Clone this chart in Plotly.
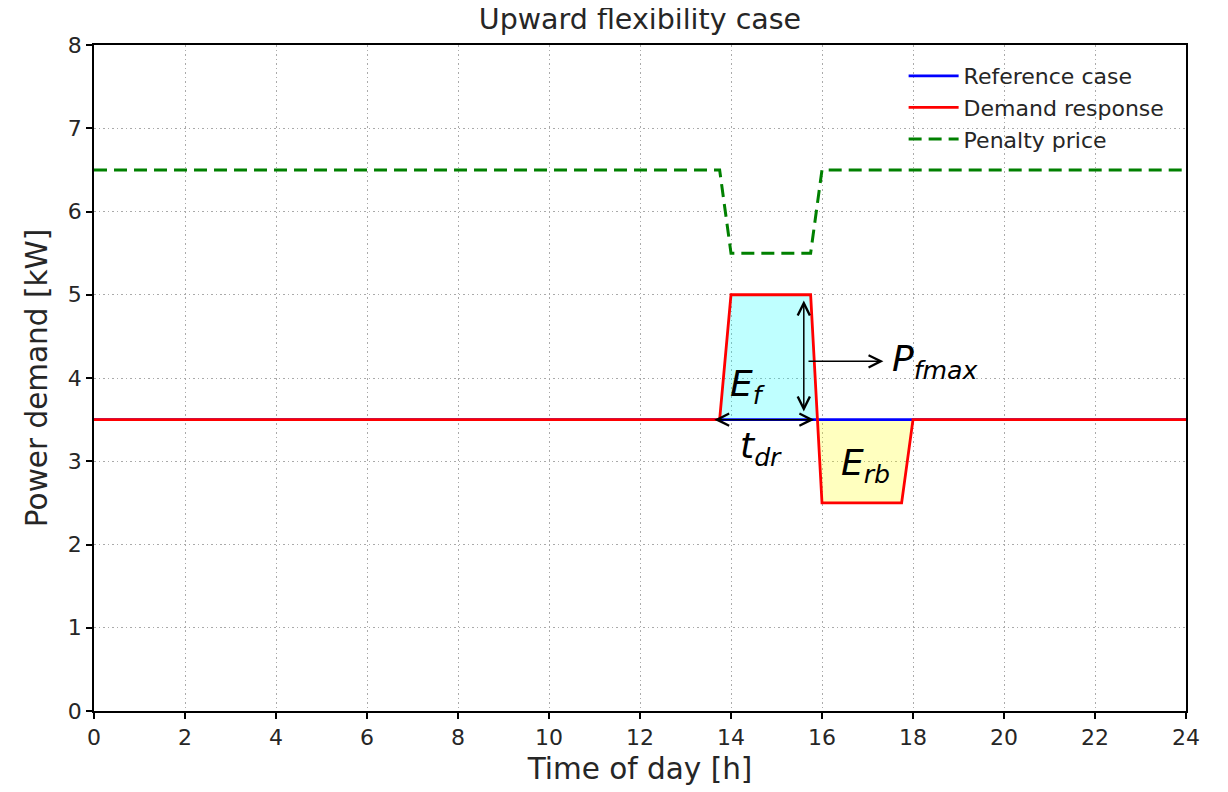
import numpy as np
import plotly.graph_objects as go

# ---------------- data ----------------
time_ref = [0, 24]
power_ref = [3.5, 3.5]

time_dr = [0, 13.75, 14.0, 15.75, 16.0, 17.75, 18.0, 24]
power_dr = [3.5, 3.5, 5.0, 5.0, 2.5, 2.5, 3.5, 3.5]

time_price = [0, 13.75, 14.0, 15.75, 16.0, 24]
price = [6.5, 6.5, 5.5, 5.5, 6.5, 6.5]

x_ticks = list(range(0, 25, 2))
y_ticks = list(range(0, 9))

# annotation anchors (data coordinates)
vert_arrow = dict(x=15.6, y0=3.58, y1=4.93)
tdr_arrow = dict(y=3.5, x0=13.6, x1=15.83)
pf_arrow = dict(y=4.2, x0=15.67, x1=17.35)
labels = [
    dict(text="<i>E</i><sub><i>f</i></sub>", x=14.38, y=3.9),
    dict(text="<i>t</i><sub><i>dr</i></sub>", x=14.65, y=3.15),
    dict(text="<i>E</i><sub><i>rb</i></sub>", x=16.95, y=2.95),
    dict(text="<i>P</i><sub><i>fmax</i></sub>", x=18.5, y=4.2),
]

FONT = "DejaVu Sans"
TXT = "#262626"


def split_fill(xs, ys, base, above=True):
    """Polygon vertices of the part of the line above/below a constant base."""
    px, py = [], []
    for i in range(len(xs) - 1):
        x0, x1, y0, y1 = xs[i], xs[i + 1], ys[i], ys[i + 1]
        d0, d1 = y0 - base, y1 - base
        if not above:
            d0, d1 = -d0, -d1
        if d0 >= 0:
            px.append(x0); py.append(y0 if d0 > 0 else base)
        if (d0 > 0 and d1 < 0) or (d0 < 0 and d1 > 0):
            xc = x0 + (x1 - x0) * d0 / (d0 - d1)
            px.append(xc); py.append(base)
    if (ys[-1] - base) * (1 if above else -1) >= 0:
        px.append(xs[-1]); py.append(ys[-1])
    py = [max(v, base) if above else min(v, base) for v in py]
    return px, py


fig = go.Figure()

cx, cy = split_fill(time_dr, power_dr, 3.5, above=True)
yx, yy = split_fill(time_dr, power_dr, 3.5, above=False)

fig.add_trace(go.Scatter(x=cx, y=[3.5] * len(cx), mode="lines", line=dict(width=0),
                         showlegend=False, hoverinfo="skip"))
fig.add_trace(go.Scatter(x=cx, y=cy, mode="lines", line=dict(width=0), fill="tonexty",
                         fillcolor="rgba(0,255,255,0.25)", showlegend=False, hoverinfo="skip"))
fig.add_trace(go.Scatter(x=yx, y=[3.5] * len(yx), mode="lines", line=dict(width=0),
                         showlegend=False, hoverinfo="skip"))
fig.add_trace(go.Scatter(x=yx, y=yy, mode="lines", line=dict(width=0), fill="tonexty",
                         fillcolor="rgba(255,255,0,0.25)", showlegend=False, hoverinfo="skip"))

fig.add_trace(go.Scatter(x=time_ref, y=power_ref, mode="lines", name="Reference case",
                         line=dict(color="#0000ff", width=2.8)))
fig.add_trace(go.Scatter(x=time_dr, y=power_dr, mode="lines", name="Demand response",
                         line=dict(color="#ff0000", width=2.8)))
fig.add_trace(go.Scatter(x=time_price, y=price, mode="lines", name="Penalty price",
                         line=dict(color="#008000", width=3, dash="13px,7px")))

arrow_common = dict(xref="x", yref="y", axref="x", ayref="y", showarrow=True,
                    arrowcolor="black", arrowwidth=1.5, arrowsize=1.6, text="")
# vertical double arrow
fig.add_annotation(x=vert_arrow["x"], y=vert_arrow["y1"], ax=vert_arrow["x"], ay=vert_arrow["y0"],
                   arrowhead=5, startarrowhead=5, startarrowsize=1.6, arrowside="end+start",
                   **arrow_common)
# horizontal double arrow (t_dr)
fig.add_annotation(x=tdr_arrow["x1"], y=tdr_arrow["y"], ax=tdr_arrow["x0"], ay=tdr_arrow["y"],
                   arrowhead=5, startarrowhead=5, startarrowsize=1.6, arrowside="end+start",
                   **arrow_common)
# arrow to P_fmax
fig.add_annotation(x=pf_arrow["x1"], y=pf_arrow["y"], ax=pf_arrow["x0"], ay=pf_arrow["y"],
                   arrowhead=5, arrowside="end", **arrow_common)

for lb in labels:
    fig.add_annotation(x=lb["x"], y=lb["y"], xref="x", yref="y", text=lb["text"], showarrow=False,
                       font=dict(family=FONT, size=36, color="black"))

axis_style = dict(showgrid=True, gridcolor="#aaaaaa", griddash="1.5px,3px", gridwidth=1,
                  showline=True, linecolor="black", linewidth=1.5, mirror=True,
                  ticks="outside", ticklen=6, tickwidth=1.5, tickcolor="black",
                  tickfont=dict(family=FONT, size=22, color=TXT), zeroline=False)

# the page body adds an 8px offset, margins compensate for it
fig.update_layout(
    width=1228, height=792,
    margin=dict(l=86, r=50, t=37, b=89),
    plot_bgcolor="white", paper_bgcolor="white",
    font=dict(family=FONT, color=TXT),
    title=dict(text="Upward flexibility case", x=0.5, xref="paper", xanchor="center",
               y=0.999, yref="container", yanchor="top",
               font=dict(family=FONT, size=28.5, color=TXT)),
    xaxis=dict(range=[0, 24], tickvals=x_ticks, ticktext=[str(v) for v in x_ticks],
               title=dict(text="Time of day [h]", font=dict(family=FONT, size=29.5, color=TXT),
                          standoff=9), **axis_style),
    yaxis=dict(range=[0, 8], tickvals=y_ticks, ticktext=[str(v) for v in y_ticks],
               title=dict(text="Power demand [kW]", font=dict(family=FONT, size=29.5, color=TXT),
                          standoff=12), **axis_style),
    legend=dict(x=0.985, y=0.985, xanchor="right", yanchor="top", bgcolor="rgba(0,0,0,0)",
                traceorder="normal",
                font=dict(family=FONT, size=22, color=TXT), tracegroupgap=0, itemwidth=50),
    showlegend=True,
)

fig.write_html("out.html")
